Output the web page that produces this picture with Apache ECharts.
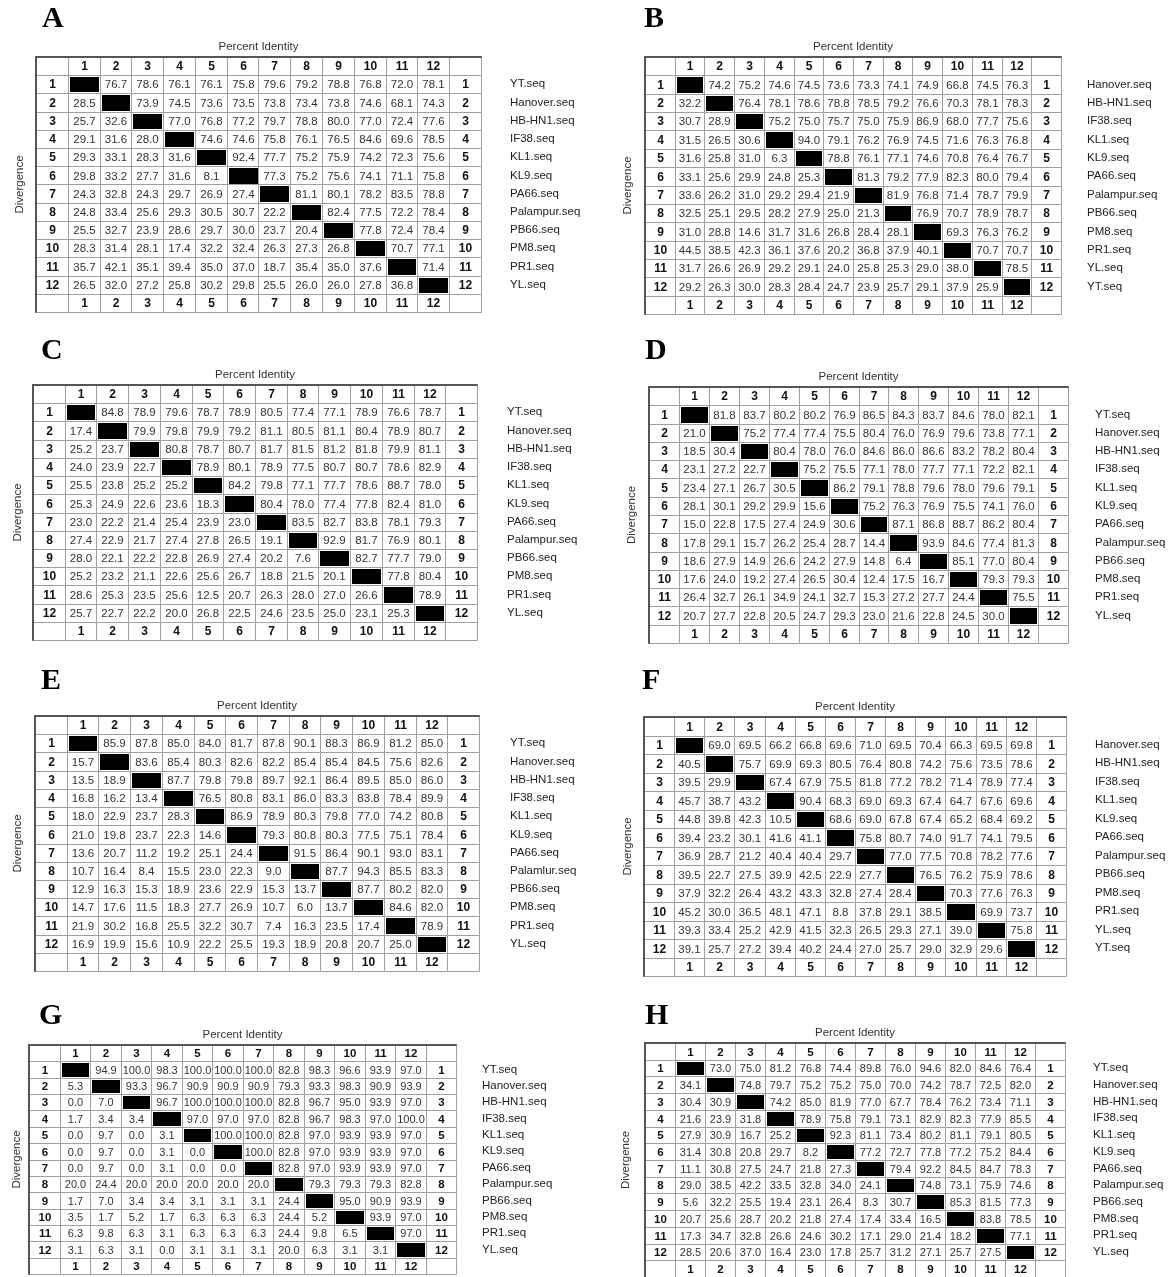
<!DOCTYPE html>
<html>
<head>
<meta charset="utf-8">
<script src="https://cdn.jsdelivr.net/npm/echarts@6/dist/echarts.min.js"></script>
<style>
  html, body { margin: 0; padding: 0; background: #fff; }
  #main { width: 1170px; height: 1277px; }
</style>
</head>
<body>
<div id="main"></div>
<script>
// column / row numbers shown in the header and side cells
const colNums = ['1','2','3','4','5','6','7','8','9','10','11','12'];

// sequence names (right side of each table)
const namesA = ['YT.seq','Hanover.seq','HB-HN1.seq','IF38.seq','KL1.seq','KL9.seq','PA66.seq','Palampur.seq','PB66.seq','PM8.seq','PR1.seq','YL.seq'];
const namesB = ['Hanover.seq','HB-HN1.seq','IF38.seq','KL1.seq','KL9.seq','PA66.seq','Palampur.seq','PB66.seq','PM8.seq','PR1.seq','YL.seq','YT.seq'];
const namesC = namesA;
const namesD = namesA;
const namesE = ['YT.seq','Hanover.seq','HB-HN1.seq','IF38.seq','KL1.seq','KL9.seq','PA66.seq','Palamlur.seq','PB66.seq','PM8.seq','PR1.seq','YL.seq'];
const namesF = namesB;
const namesG = namesA;
const namesH = namesA;

// upper triangle = percent identity, lower triangle = divergence
const matA = [
  [null,76.7,78.6,76.1,76.1,75.8,79.6,79.2,78.8,76.8,72.0,78.1],
  [28.5,null,73.9,74.5,73.6,73.5,73.8,73.4,73.8,74.6,68.1,74.3],
  [25.7,32.6,null,77.0,76.8,77.2,79.7,78.8,80.0,77.0,72.4,77.6],
  [29.1,31.6,28.0,null,74.6,74.6,75.8,76.1,76.5,84.6,69.6,78.5],
  [29.3,33.1,28.3,31.6,null,92.4,77.7,75.2,75.9,74.2,72.3,75.6],
  [29.8,33.2,27.7,31.6,8.1,null,77.3,75.2,75.6,74.1,71.1,75.8],
  [24.3,32.8,24.3,29.7,26.9,27.4,null,81.1,80.1,78.2,83.5,78.8],
  [24.8,33.4,25.6,29.3,30.5,30.7,22.2,null,82.4,77.5,72.2,78.4],
  [25.5,32.7,23.9,28.6,29.7,30.0,23.7,20.4,null,77.8,72.4,78.4],
  [28.3,31.4,28.1,17.4,32.2,32.4,26.3,27.3,26.8,null,70.7,77.1],
  [35.7,42.1,35.1,39.4,35.0,37.0,18.7,35.4,35.0,37.6,null,71.4],
  [26.5,32.0,27.2,25.8,30.2,29.8,25.5,26.0,26.0,27.8,36.8,null]
];
const matB = [
  [null,74.2,75.2,74.6,74.5,73.6,73.3,74.1,74.9,66.8,74.5,76.3],
  [32.2,null,76.4,78.1,78.6,78.8,78.5,79.2,76.6,70.3,78.1,78.3],
  [30.7,28.9,null,75.2,75.0,75.7,75.0,75.9,86.9,68.0,77.7,75.6],
  [31.5,26.5,30.6,null,94.0,79.1,76.2,76.9,74.5,71.6,76.3,76.8],
  [31.6,25.8,31.0,6.3,null,78.8,76.1,77.1,74.6,70.8,76.4,76.7],
  [33.1,25.6,29.9,24.8,25.3,null,81.3,79.2,77.9,82.3,80.0,79.4],
  [33.6,26.2,31.0,29.2,29.4,21.9,null,81.9,76.8,71.4,78.7,79.9],
  [32.5,25.1,29.5,28.2,27.9,25.0,21.3,null,76.9,70.7,78.9,78.7],
  [31.0,28.8,14.6,31.7,31.6,26.8,28.4,28.1,null,69.3,76.3,76.2],
  [44.5,38.5,42.3,36.1,37.6,20.2,36.8,37.9,40.1,null,70.7,70.7],
  [31.7,26.6,26.9,29.2,29.1,24.0,25.8,25.3,29.0,38.0,null,78.5],
  [29.2,26.3,30.0,28.3,28.4,24.7,23.9,25.7,29.1,37.9,25.9,null]
];
const matC = [
  [null,84.8,78.9,79.6,78.7,78.9,80.5,77.4,77.1,78.9,76.6,78.7],
  [17.4,null,79.9,79.8,79.9,79.2,81.1,80.5,81.1,80.4,78.9,80.7],
  [25.2,23.7,null,80.8,78.7,80.7,81.7,81.5,81.2,81.8,79.9,81.1],
  [24.0,23.9,22.7,null,78.9,80.1,78.9,77.5,80.7,80.7,78.6,82.9],
  [25.5,23.8,25.2,25.2,null,84.2,79.8,77.1,77.7,78.6,88.7,78.0],
  [25.3,24.9,22.6,23.6,18.3,null,80.4,78.0,77.4,77.8,82.4,81.0],
  [23.0,22.2,21.4,25.4,23.9,23.0,null,83.5,82.7,83.8,78.1,79.3],
  [27.4,22.9,21.7,27.4,27.8,26.5,19.1,null,92.9,81.7,76.9,80.1],
  [28.0,22.1,22.2,22.8,26.9,27.4,20.2,7.6,null,82.7,77.7,79.0],
  [25.2,23.2,21.1,22.6,25.6,26.7,18.8,21.5,20.1,null,77.8,80.4],
  [28.6,25.3,23.5,25.6,12.5,20.7,26.3,28.0,27.0,26.6,null,78.9],
  [25.7,22.7,22.2,20.0,26.8,22.5,24.6,23.5,25.0,23.1,25.3,null]
];
const matD = [
  [null,81.8,83.7,80.2,80.2,76.9,86.5,84.3,83.7,84.6,78.0,82.1],
  [21.0,null,75.2,77.4,77.4,75.5,80.4,76.0,76.9,79.6,73.8,77.1],
  [18.5,30.4,null,80.4,78.0,76.0,84.6,86.0,86.6,83.2,78.2,80.4],
  [23.1,27.2,22.7,null,75.2,75.5,77.1,78.0,77.7,77.1,72.2,82.1],
  [23.4,27.1,26.7,30.5,null,86.2,79.1,78.8,79.6,78.0,79.6,79.1],
  [28.1,30.1,29.2,29.9,15.6,null,75.2,76.3,76.9,75.5,74.1,76.0],
  [15.0,22.8,17.5,27.4,24.9,30.6,null,87.1,86.8,88.7,86.2,80.4],
  [17.8,29.1,15.7,26.2,25.4,28.7,14.4,null,93.9,84.6,77.4,81.3],
  [18.6,27.9,14.9,26.6,24.2,27.9,14.8,6.4,null,85.1,77.0,80.4],
  [17.6,24.0,19.2,27.4,26.5,30.4,12.4,17.5,16.7,null,79.3,79.3],
  [26.4,32.7,26.1,34.9,24.1,32.7,15.3,27.2,27.7,24.4,null,75.5],
  [20.7,27.7,22.8,20.5,24.7,29.3,23.0,21.6,22.8,24.5,30.0,null]
];
const matE = [
  [null,85.9,87.8,85.0,84.0,81.7,87.8,90.1,88.3,86.9,81.2,85.0],
  [15.7,null,83.6,85.4,80.3,82.6,82.2,85.4,85.4,84.5,75.6,82.6],
  [13.5,18.9,null,87.7,79.8,79.8,89.7,92.1,86.4,89.5,85.0,86.0],
  [16.8,16.2,13.4,null,76.5,80.8,83.1,86.0,83.3,83.8,78.4,89.9],
  [18.0,22.9,23.7,28.3,null,86.9,78.9,80.3,79.8,77.0,74.2,80.8],
  [21.0,19.8,23.7,22.3,14.6,null,79.3,80.8,80.3,77.5,75.1,78.4],
  [13.6,20.7,11.2,19.2,25.1,24.4,null,91.5,86.4,90.1,93.0,83.1],
  [10.7,16.4,8.4,15.5,23.0,22.3,9.0,null,87.7,94.3,85.5,83.3],
  [12.9,16.3,15.3,18.9,23.6,22.9,15.3,13.7,null,87.7,80.2,82.0],
  [14.7,17.6,11.5,18.3,27.7,26.9,10.7,6.0,13.7,null,84.6,82.0],
  [21.9,30.2,16.8,25.5,32.2,30.7,7.4,16.3,23.5,17.4,null,78.9],
  [16.9,19.9,15.6,10.9,22.2,25.5,19.3,18.9,20.8,20.7,25.0,null]
];
const matF = [
  [null,69.0,69.5,66.2,66.8,69.6,71.0,69.5,70.4,66.3,69.5,69.8],
  [40.5,null,75.7,69.9,69.3,80.5,76.4,80.8,74.2,75.6,73.5,78.6],
  [39.5,29.9,null,67.4,67.9,75.5,81.8,77.2,78.2,71.4,78.9,77.4],
  [45.7,38.7,43.2,null,90.4,68.3,69.0,69.3,67.4,64.7,67.6,69.6],
  [44.8,39.8,42.3,10.5,null,68.6,69.0,67.8,67.4,65.2,68.4,69.2],
  [39.4,23.2,30.1,41.6,41.1,null,75.8,80.7,74.0,91.7,74.1,79.5],
  [36.9,28.7,21.2,40.4,40.4,29.7,null,77.0,77.5,70.8,78.2,77.6],
  [39.5,22.7,27.5,39.9,42.5,22.9,27.7,null,76.5,76.2,75.9,78.6],
  [37.9,32.2,26.4,43.2,43.3,32.8,27.4,28.4,null,70.3,77.6,76.3],
  [45.2,30.0,36.5,48.1,47.1,8.8,37.8,29.1,38.5,null,69.9,73.7],
  [39.3,33.4,25.2,42.9,41.5,32.3,26.5,29.3,27.1,39.0,null,75.8],
  [39.1,25.7,27.2,39.4,40.2,24.4,27.0,25.7,29.0,32.9,29.6,null]
];
const matG = [
  [null,94.9,100.0,98.3,100.0,100.0,100.0,82.8,98.3,96.6,93.9,97.0],
  [5.3,null,93.3,96.7,90.9,90.9,90.9,79.3,93.3,98.3,90.9,93.9],
  [0.0,7.0,null,96.7,100.0,100.0,100.0,82.8,96.7,95.0,93.9,97.0],
  [1.7,3.4,3.4,null,97.0,97.0,97.0,82.8,96.7,98.3,97.0,100.0],
  [0.0,9.7,0.0,3.1,null,100.0,100.0,82.8,97.0,93.9,93.9,97.0],
  [0.0,9.7,0.0,3.1,0.0,null,100.0,82.8,97.0,93.9,93.9,97.0],
  [0.0,9.7,0.0,3.1,0.0,0.0,null,82.8,97.0,93.9,93.9,97.0],
  [20.0,24.4,20.0,20.0,20.0,20.0,20.0,null,79.3,79.3,79.3,82.8],
  [1.7,7.0,3.4,3.4,3.1,3.1,3.1,24.4,null,95.0,90.9,93.9],
  [3.5,1.7,5.2,1.7,6.3,6.3,6.3,24.4,5.2,null,93.9,97.0],
  [6.3,9.8,6.3,3.1,6.3,6.3,6.3,24.4,9.8,6.5,null,97.0],
  [3.1,6.3,3.1,0.0,3.1,3.1,3.1,20.0,6.3,3.1,3.1,null]
];
const matH = [
  [null,73.0,75.0,81.2,76.8,74.4,89.8,76.0,94.6,82.0,84.6,76.4],
  [34.1,null,74.8,79.7,75.2,75.2,75.0,70.0,74.2,78.7,72.5,82.0],
  [30.4,30.9,null,74.2,85.0,81.9,77.0,67.7,78.4,76.2,73.4,71.1],
  [21.6,23.9,31.8,null,78.9,75.8,79.1,73.1,82.9,82.3,77.9,85.5],
  [27.9,30.9,16.7,25.2,null,92.3,81.1,73.4,80.2,81.1,79.1,80.5],
  [31.4,30.8,20.8,29.7,8.2,null,77.2,72.7,77.8,77.2,75.2,84.4],
  [11.1,30.8,27.5,24.7,21.8,27.3,null,79.4,92.2,84.5,84.7,78.3],
  [29.0,38.5,42.2,33.5,32.8,34.0,24.1,null,74.8,73.1,75.9,74.6],
  [5.6,32.2,25.5,19.4,23.1,26.4,8.3,30.7,null,85.3,81.5,77.3],
  [20.7,25.6,28.7,20.2,21.8,27.4,17.4,33.4,16.5,null,83.8,78.5],
  [17.3,34.7,32.8,26.6,24.6,30.2,17.1,29.0,21.4,18.2,null,77.1],
  [28.5,20.6,37.0,16.4,23.0,17.8,25.7,31.2,27.1,25.7,27.5,null]
];

// layout of each panel: table box [left, top, right, bottom], letter position, gaps
const panels = [
  { key:'A', names:namesA, mat:matA, box:[36,57,481,312],     tag:[42,4],    nameMargin:29, divGap:10, fs:11.5 },
  { key:'B', names:namesB, mat:matB, box:[645,57,1061,314],   tag:[644,4],   nameMargin:26, divGap:11, fs:11.5 },
  { key:'C', names:namesC, mat:matC, box:[33,385,477,640],    tag:[41,336],  nameMargin:30, divGap:9,  fs:11.5 },
  { key:'D', names:namesD, mat:matD, box:[649,387,1068,643],  tag:[645,336], nameMargin:27, divGap:11, fs:11.5 },
  { key:'E', names:namesE, mat:matE, box:[35,716,479,971],    tag:[41,666],  nameMargin:31, divGap:11, fs:11.5 },
  { key:'F', names:namesF, mat:matF, box:[644,717,1066,976],  tag:[642,666], nameMargin:29, divGap:10, fs:11.5 },
  { key:'G', names:namesG, mat:matG, box:[29,1045,456,1274],  tag:[39,1001], nameMargin:26, divGap:6,  fs:11 },
  { key:'H', names:namesH, mat:matH, box:[645,1043,1065,1281],tag:[645,1001],nameMargin:28, divGap:13, fs:11 }
];

const edgeCats = [''].concat(colNums, ['']);

// kind: 0 empty corner, 1 header number, 2 diagonal (black), 3 value
function buildCells(mat) {
  const cells = [];
  for (let r = 0; r < 14; r++) {
    for (let c = 0; c < 14; c++) {
      const edgeR = r === 0 || r === 13, edgeC = c === 0 || c === 13;
      if (edgeR && edgeC) cells.push([c, r, 0, 0]);
      else if (edgeR) cells.push([c, r, c, 1]);
      else if (edgeC) cells.push([c, r, r, 1]);
      else if (r === c) cells.push([c, r, 0, 2]);
      else cells.push([c, r, mat[r - 1][c - 1], 3]);
    }
  }
  return cells;
}

function makeRender(fs) {
  return function (params, api) {
    const c = api.value(0), r = api.value(1), v = api.value(2), kind = api.value(3);
    const pt = api.coord([c, r]);
    const sz = api.size([1, 1]);
    const x0 = Math.round(pt[0] - sz[0] / 2), x1 = Math.round(pt[0] + sz[0] / 2);
    const y0 = Math.round(pt[1] - sz[1] / 2), y1 = Math.round(pt[1] + sz[1] / 2);
    const children = [{
      type: 'rect',
      shape: { x: x0 + 0.5, y: y0 + 0.5, width: x1 - x0, height: y1 - y0 },
      style: { fill: '#fff', stroke: '#a0a0a0', lineWidth: 1 }
    }];
    if (kind === 2) {
      children.push({
        type: 'rect',
        shape: { x: x0 + 2, y: y0 + 2, width: x1 - x0 - 3, height: y1 - y0 - 3 },
        style: { fill: '#000' }
      });
    } else if (kind === 1 || kind === 3) {
      children.push({
        type: 'text',
        x: (x0 + x1) / 2 + 0.5,
        y: (y0 + y1) / 2 + 1,
        style: {
          text: kind === 1 ? String(v) : Number(v).toFixed(1),
          fill: kind === 1 ? '#111' : '#333',
          fontSize: kind === 1 ? fs + 0.5 : fs,
          fontWeight: kind === 1 ? 'bold' : 'normal',
          fontFamily: 'Liberation Sans, Arial, sans-serif',
          align: 'center',
          verticalAlign: 'middle'
        }
      });
    }
    return { type: 'group', children: children };
  };
}

const chart = echarts.init(document.getElementById('main'));
const option = { animation: false, backgroundColor: '#fff', title: [], grid: [], xAxis: [], yAxis: [], series: [] };
const axisFont = { fontFamily: 'Liberation Sans, Arial, sans-serif', fontSize: 11.5, color: '#333' };

panels.forEach(function (p, i) {
  const l = p.box[0], t = p.box[1], r = p.box[2], b = p.box[3];
  option.title.push({
    text: p.key, left: p.tag[0], top: p.tag[1], padding: 0,
    textStyle: { fontFamily: 'Liberation Serif, Times New Roman, serif', fontWeight: 'bold', fontSize: 30, color: '#000' }
  });
  option.grid.push({ left: l, top: t, width: r - l, height: b - t });
  option.xAxis.push({
    type: 'category', gridIndex: i, position: 'top', data: edgeCats, z: 5,
    axisTick: { show: false }, axisLabel: { show: false }, splitLine: { show: false },
    axisLine: { show: true, lineStyle: { color: '#555', width: 2 } },
    name: 'Percent Identity', nameLocation: 'middle', nameGap: 4, nameTextStyle: axisFont
  });
  option.yAxis.push({
    type: 'category', gridIndex: i, inverse: true, data: edgeCats, z: 5,
    axisTick: { show: false }, axisLabel: { show: false }, splitLine: { show: false },
    axisLine: { show: true, lineStyle: { color: '#555', width: 2 } },
    name: 'Divergence', nameLocation: 'middle', nameRotate: 90, nameGap: p.divGap, nameTextStyle: axisFont
  });
  option.yAxis.push({
    type: 'category', gridIndex: i, inverse: true, position: 'right',
    data: [''].concat(p.names, ['']),
    axisTick: { show: false }, axisLine: { show: false }, splitLine: { show: false },
    axisLabel: { interval: 0, margin: p.nameMargin, align: 'left', fontSize: 11.5, color: '#222', fontFamily: 'Liberation Sans, Arial, sans-serif' }
  });
  option.series.push({
    type: 'custom', xAxisIndex: i, yAxisIndex: 2 * i, silent: true,
    data: buildCells(p.mat),
    renderItem: makeRender(p.fs)
  });
});

chart.setOption(option);
</script>
</body>
</html>
